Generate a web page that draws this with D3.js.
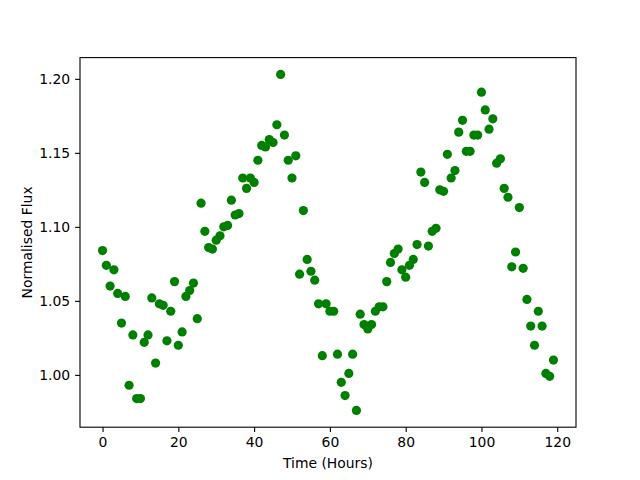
<!DOCTYPE html>
<html><head><meta charset="utf-8">
<script src="https://cdn.jsdelivr.net/npm/d3@7"></script>
<style>body{margin:0;background:#fff}svg{display:block}text{font-family:"DejaVu Sans",sans-serif}</style>
</head><body>
<script>
const hours = d3.range(0, 120);
const flux = [
1.084,1.074,1.060,1.071,1.055,1.035,1.053,0.993,1.027,0.984,
0.984,1.022,1.027,1.052,1.008,1.048,1.047,1.023,1.043,1.063,
1.020,1.029,1.053,1.057,1.062,1.038,1.116,1.097,1.086,1.085,
1.091,1.094,1.100,1.101,1.118,1.108,1.109,1.133,1.126,1.133,
1.130,1.145,1.155,1.154,1.159,1.157,1.169,1.203,1.162,1.145,
1.133,1.148,1.068,1.111,1.078,1.070,1.064,1.048,1.013,1.048,
1.043,1.043,1.014,0.995,0.986,1.001,1.014,0.976,1.041,1.034,
1.031,1.034,1.043,1.046,1.046,1.063,1.076,1.082,1.085,1.071,
1.066,1.074,1.078,1.088,1.137,1.130,1.087,1.097,1.099,1.125,
1.124,1.149,1.133,1.138,1.164,1.172,1.151,1.151,1.162,1.162,
1.191,1.179,1.166,1.173,1.143,1.146,1.126,1.120,1.073,1.083,
1.113,1.072,1.051,1.033,1.020,1.043,1.033,1.001,0.999,1.010];
const xTicks = [0,20,40,60,80,100,120];
const yTicks = [1.00,1.05,1.10,1.15,1.20];
const xLabel = "Time (Hours)";
const yLabel = "Normalised Flux";

const W=640,H=480, L=80,R=576,T=57.6,B=427.2;
const svg=d3.select("body").append("svg").attr("width",W).attr("height",H);
const xmin=d3.min(hours), xmax=d3.max(hours), xm=(xmax-xmin)*0.05;
const ymin=d3.min(flux), ymax=d3.max(flux), ym=(ymax-ymin)*0.05;
const x=d3.scaleLinear().domain([xmin-xm,xmax+xm]).range([L,R]);
const y=d3.scaleLinear().domain([ymin-ym,ymax+ym]).range([B,T]);

svg.append("g").selectAll("circle").data(hours).join("circle")
  .attr("cx",(d)=>x(d)).attr("cy",(d,i)=>y(flux[i])).attr("r",4.6)
  .attr("fill","#008000");

const fs="13.9px";
const gx=svg.append("g").attr("transform",`translate(0,${B})`)
  .call(d3.axisBottom(x).tickValues(xTicks).tickFormat(d3.format("d")).tickSize(4.9).tickPadding(4.9).tickSizeOuter(0));
const gy=svg.append("g").attr("transform",`translate(${L},0)`)
  .call(d3.axisLeft(y).tickValues(yTicks).tickFormat(d3.format(".2f")).tickSize(4.9).tickPadding(4.9).tickSizeOuter(0));
[gx,gy].forEach(g=>{
  g.select(".domain").remove();
  g.selectAll("line").attr("stroke","#000").attr("stroke-width",1.1);
  g.selectAll("text").attr("font-size",fs).attr("fill","#000").attr("font-family","DejaVu Sans");
});
svg.append("rect").attr("x",L).attr("y",T).attr("width",R-L).attr("height",B-T)
  .attr("fill","none").attr("stroke","#000").attr("stroke-width",1.1);

svg.append("text").attr("x",(L+R)/2).attr("y",468).attr("text-anchor","middle")
  .attr("font-size",fs).text(xLabel);
svg.append("text").attr("transform",`translate(32,${(T+B)/2}) rotate(-90)`).attr("text-anchor","middle")
  .attr("font-size",fs).text(yLabel);
</script>
</body></html>
